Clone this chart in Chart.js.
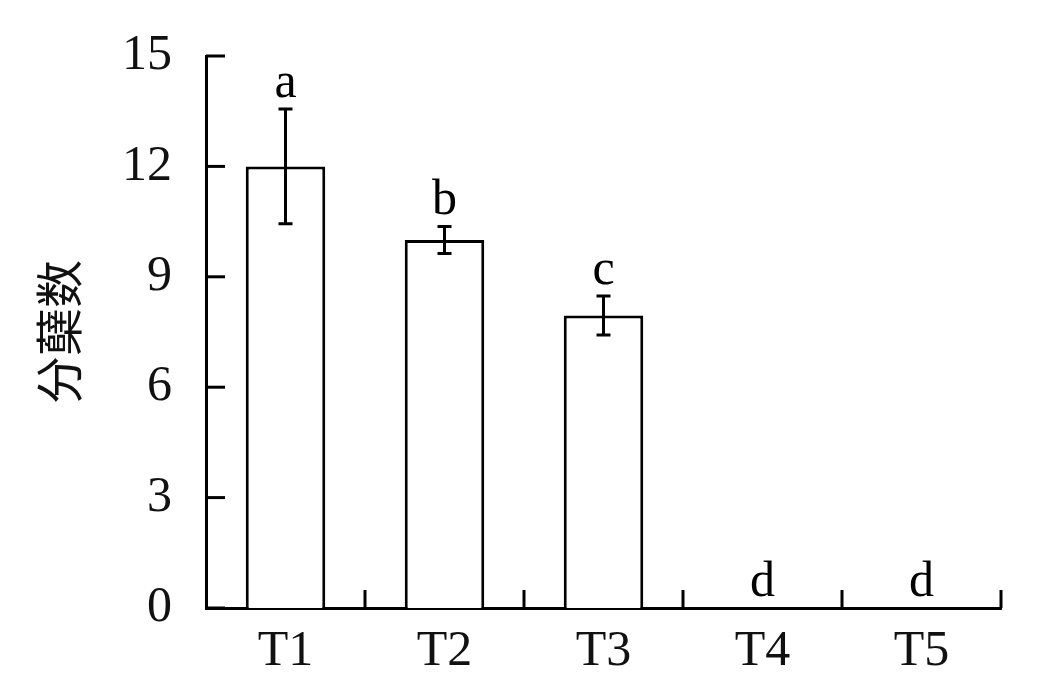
<!DOCTYPE html>
<html>
<head>
<meta charset="utf-8">
<script src="https://cdn.jsdelivr.net/npm/chart.js@4/dist/chart.umd.min.js"></script>
<style>
    html, body { margin: 0; padding: 0; background: #fff; }
    #wrap { width: 1037px; height: 691px; }
</style>
</head>
<body>
<div id="wrap"><canvas id="tillerChart"></canvas></div>
<script>
// Tiller counts per treatment
const categories = ['T1', 'T2', 'T3', 'T4', 'T5'];
const tillerMeans = [12.0, 10.0, 7.95, 0, 0];
const tillerErrors = [1.56, 0.37, 0.53, 0, 0];
const sigLetters = ['a', 'b', 'c', 'd', 'd'];
const yTicks = [0, 3, 6, 9, 12, 15];

const serif = '"Liberation Serif", "Times New Roman", serif';

// Error bars, significance letters and inward tick marks
const extrasPlugin = {
    id: 'extras',
    afterDatasetsDraw(chart) {
        const ctx = chart.ctx;
        const x = chart.scales.x;
        const y = chart.scales.y;
        const area = chart.chartArea;
        ctx.save();
        ctx.strokeStyle = '#000';
        ctx.fillStyle = '#000';
        ctx.lineWidth = 3;

        // error bars
        tillerMeans.forEach((m, i) => {
            const e = tillerErrors[i];
            if (!e) return;
            const cx = x.getPixelForValue(i);
            const top = y.getPixelForValue(m + e);
            const bot = y.getPixelForValue(m - e);
            ctx.beginPath();
            ctx.moveTo(cx, top); ctx.lineTo(cx, bot);
            ctx.moveTo(cx - 7, top); ctx.lineTo(cx + 7, top);
            ctx.moveTo(cx - 7, bot); ctx.lineTo(cx + 7, bot);
            ctx.stroke();
        });

        // letters
        ctx.font = '50px ' + serif;
        ctx.textAlign = 'center';
        ctx.textBaseline = 'alphabetic';
        sigLetters.forEach((s, i) => {
            const cx = x.getPixelForValue(i);
            const top = y.getPixelForValue(tillerMeans[i] + tillerErrors[i]);
            ctx.fillText(s, cx, top - 12);
        });

        // y ticks pointing into the plot
        yTicks.forEach(v => {
            const py = y.getPixelForValue(v);
            ctx.beginPath();
            ctx.moveTo(area.left, py); ctx.lineTo(area.left + 19, py);
            ctx.stroke();
        });

        // x ticks at category boundaries, pointing up
        for (let i = 0; i < categories.length; i++) {
            const px = x.getPixelForValue(i) + (x.getPixelForValue(1) - x.getPixelForValue(0)) / 2;
            ctx.beginPath();
            ctx.moveTo(px, area.bottom); ctx.lineTo(px, area.bottom - 18);
            ctx.stroke();
        }
        ctx.restore();
    }
};

new Chart(document.getElementById('tillerChart'), {
    type: 'bar',
    data: {
        labels: categories,
        datasets: [{
            data: tillerMeans,
            backgroundColor: '#fff',
            borderColor: '#000',
            borderWidth: 3,
            borderSkipped: 'bottom',
            categoryPercentage: 1.0,
            barPercentage: 0.5
        }]
    },
    options: {
        responsive: true,
        maintainAspectRatio: false,
        animation: false,
        layout: { padding: { left: 0, top: 56, right: 36, bottom: 0 } },
        plugins: {
            legend: { display: false },
            tooltip: { enabled: false }
        },
        scales: {
            x: {
                grid: { display: false, drawTicks: false },
                border: { display: true, color: '#000', width: 3 },
                ticks: {
                    color: '#111',
                    font: { family: serif, size: 50 },
                    padding: 14
                },
                afterFit(scale) { scale.height = 83; }
            },
            y: {
                min: 0,
                max: 15,
                afterBuildTicks(scale) { scale.ticks = yTicks.map(v => ({ value: v })); },
                grid: { display: false, drawTicks: false },
                border: { display: true, color: '#000', width: 3 },
                ticks: {
                    color: '#111',
                    font: { family: serif, size: 50 },
                    padding: 34
                },
                title: {
                    display: true,
                    text: '分蘖数',
                    color: '#111',
                    font: { family: '"Noto Sans CJK SC", sans-serif', size: 48 },
                    padding: { top: 30 }
                },
                afterFit(scale) {
                    scale.width = 206;
                    scale.paddingTop = 0;
                    scale.paddingBottom = 0;
                }
            }
        }
    },
    plugins: [extrasPlugin]
});
</script>
</body>
</html>
